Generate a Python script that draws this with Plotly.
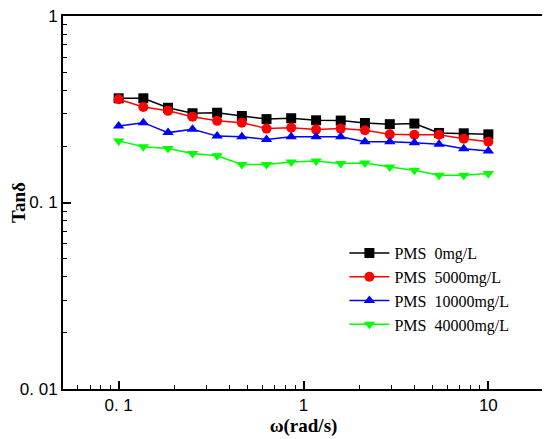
import plotly.graph_objects as go

# angular frequency (rad/s)
omega = [0.1, 0.136, 0.185, 0.251, 0.341, 0.464, 0.631, 0.858,
         1.17, 1.59, 2.15, 2.93, 3.98, 5.41, 7.36, 10.0]

# tan delta for each PMS concentration
tan_0 = [0.362, 0.362, 0.322, 0.301, 0.303, 0.291, 0.280, 0.283,
         0.276, 0.275, 0.267, 0.263, 0.265, 0.236, 0.235, 0.232]
tan_5000 = [0.358, 0.325, 0.310, 0.288, 0.274, 0.268, 0.249, 0.252,
            0.246, 0.249, 0.244, 0.232, 0.231, 0.231, 0.220, 0.212]
tan_10000 = [0.257, 0.268, 0.237, 0.247, 0.227, 0.225, 0.218, 0.225,
             0.225, 0.225, 0.212, 0.212, 0.209, 0.205, 0.194, 0.189]
tan_40000 = [0.214, 0.199, 0.195, 0.183, 0.178, 0.160, 0.160, 0.165,
             0.167, 0.162, 0.163, 0.155, 0.149, 0.140, 0.140, 0.143]

names = ["PMS  0mg/L", "PMS  5000mg/L", "PMS  10000mg/L", "PMS  40000mg/L"]
colors = ["#000000", "#ff0000", "#0000ff", "#00ff00"]
symbols = ["square", "circle", "triangle-up", "triangle-down"]
series = [tan_0, tan_5000, tan_10000, tan_40000]

fig = go.Figure()
for nm, c, s, ys in zip(names, colors, symbols, series):
    fig.add_trace(go.Scatter(x=omega, y=ys, mode="lines+markers", name=nm,
                             line=dict(color=c, width=1.5),
                             marker=dict(symbol=s, size=10, color=c)))

axis_common = dict(type="log", showline=True, linecolor="black", linewidth=2,
                   mirror=True, ticks="inside", ticklen=8, tickwidth=1.5,
                   tickcolor="black", showgrid=False, zeroline=False, automargin=False,
                   ticklabeloverflow="allow",
                   tickfont=dict(family="Liberation Sans, Arial", size=17, color="black"),
                   minor=dict(ticks="inside", ticklen=4, tickwidth=1.2,
                              tickcolor="black", dtick="D1", showgrid=False))

fig.update_xaxes(**axis_common, range=[-1.301, 1.301],
                 tickvals=[0.1, 1, 10], ticktext=["0. 1", "1", "10"],
                 title=dict(text="<b>ω(rad/s)</b>", standoff=2,
                            font=dict(family="Liberation Serif, Times New Roman", size=19, color="black")))
fig.update_yaxes(**axis_common, range=[-2, 0],
                 tickvals=[0.01, 0.1, 1], ticktext=["0. 01", "0. 1", "1"],
                 title=dict(text="<b>Tanδ</b>", standoff=0,
                            font=dict(family="Liberation Serif, Times New Roman", size=19, color="black")))

# page has an 8px body margin, so the figure is made a bit smaller
fig.update_layout(
    width=542, height=431,
    margin=dict(l=55, r=6, t=8, b=50),
    plot_bgcolor="white", paper_bgcolor="white",
    legend=dict(x=0.585, y=0.41, xanchor="left", yanchor="top",
                bgcolor="rgba(0,0,0,0)", tracegroupgap=0, itemwidth=40,
                font=dict(family="Liberation Serif, Times New Roman", size=16, color="black")),
)

fig.write_html("out.html")
